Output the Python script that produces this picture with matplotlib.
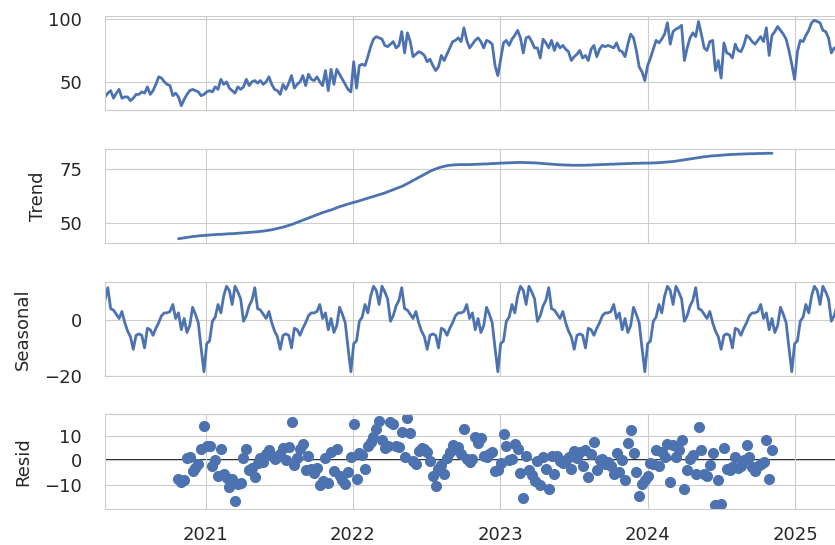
import numpy as np
import pandas as pd
import matplotlib
matplotlib.use("Agg")
import matplotlib.pyplot as plt
import matplotlib.dates as mdates
import seaborn as sns

sns.set_style("whitegrid")
plt.rcParams["font.family"] = ["DejaVu Sans"]

# weekly series, 260 weeks
weeks = pd.date_range("2020-04-27", periods=260, freq="7D")

observed = [
    38, 41, 43, 37, 41, 44, 37, 38, 38, 35,
    37, 40, 40, 42, 41, 46, 40, 43, 48, 54,
    53, 50, 48, 47, 39, 41, 38, 31, 36, 40,
    43, 44, 43, 42, 39, 40, 42, 43, 42, 46,
    44, 52, 48, 50, 45, 43, 41, 46, 44, 46,
    52, 47, 50, 51, 49, 51, 48, 50, 54, 48,
    44, 43, 40, 48, 44, 49, 55, 45, 48, 50,
    55, 47, 56, 52, 51, 54, 50, 47, 59, 43,
    60, 48, 60, 56, 52, 48, 44, 42, 66, 45,
    63, 64, 63, 70, 78, 84, 86, 85, 84, 79,
    78, 80, 82, 77, 79, 90, 73, 89, 82, 70,
    72, 74, 73, 71, 66, 68, 63, 59, 62, 71,
    67, 72, 77, 82, 83, 85, 82, 93, 83, 77,
    80, 83, 85, 82, 77, 83, 82, 80, 63, 55,
    68, 81, 83, 79, 84, 87, 91, 85, 73, 85,
    86, 82, 77, 77, 69, 84, 81, 77, 83, 75,
    81, 77, 79, 76, 74, 67, 70, 72, 75, 69,
    71, 67, 76, 79, 70, 76, 79, 78, 79, 78,
    77, 81, 75, 74, 70, 80, 88, 85, 75, 62,
    58, 51, 63, 69, 76, 83, 81, 84, 88, 97,
    80, 90, 92, 93, 95, 67, 77, 85, 89, 86,
    98, 88, 77, 75, 82, 83, 59, 67, 53, 81,
    73, 72, 69, 80, 75, 74, 79, 87, 85, 82,
    80, 83, 86, 82, 93, 71, 87, 90, 94, 91,
    88, 84, 75, 64, 52, 74, 83, 82, 87, 91,
    97, 99, 98, 97, 91, 90, 85, 73, 77, 76,
]

# one 52-week seasonal cycle
seasonal_cycle = [
    7, 11.5, 4, 3.5, 2, 0.5, 3, -1, -4, -6,
    -10.5, -5.5, -5, -5.5, -10, -3, -3.5, -5.5, -3, -1,
    1.5, 2.5, 2.5, 3, 5.5, 0.5, 2.5, -3.5, 0.5, -4.5,
    -2, 4.5, 2, -1, -10, -18.5, -8.5, -7.5, -0.5, 1,
    5.5, 2.5, 8.5, 12, 10.5, 5.5, 12, 10, 7.5, -0.5,
    1.5, 5,
]

# trend, defined from week 26 onwards
trend_start = 26
trend_values = [
    43.0, 43.2, 43.4, 43.6, 43.8, 44.0, 44.1, 44.3, 44.4, 44.5,
    44.6, 44.7, 44.8, 44.9, 45.0, 45.0, 45.1, 45.2, 45.3, 45.3,
    45.4, 45.5, 45.6, 45.7, 45.8, 45.9, 46.0, 46.1, 46.2, 46.4,
    46.5, 46.7, 46.9, 47.1, 47.4, 47.7, 48.0, 48.3, 48.7, 49.1,
    49.5, 50.0, 50.5, 51.0, 51.5, 52.0, 52.5, 53.0, 53.5, 54.0,
    54.5, 55.0, 55.4, 55.8, 56.2, 56.7, 57.2, 57.7, 58.1, 58.5,
    58.9, 59.3, 59.7, 60.0, 60.4, 60.8, 61.2, 61.6, 62.0, 62.4,
    62.8, 63.2, 63.6, 64.0, 64.5, 65.0, 65.5, 66.0, 66.5, 67.0,
    67.6, 68.3, 69.0, 69.7, 70.4, 71.1, 71.8, 72.5, 73.2, 73.9,
    74.5, 75.0, 75.5, 75.9, 76.2, 76.5, 76.7, 76.8, 76.9, 77.0,
    77.0, 77.0, 77.0, 77.0, 77.1, 77.1, 77.2, 77.2, 77.3, 77.3,
    77.4, 77.5, 77.5, 77.6, 77.7, 77.7, 77.8, 77.8, 77.9, 77.9,
    78.0, 78.0, 78.0, 77.9, 77.9, 77.8, 77.8, 77.7, 77.6, 77.5,
    77.4, 77.3, 77.2, 77.1, 77.0, 76.9, 76.9, 76.8, 76.8, 76.7,
    76.7, 76.7, 76.7, 76.7, 76.7, 76.8, 76.8, 76.9, 76.9, 77.0,
    77.0, 77.1, 77.1, 77.2, 77.2, 77.3, 77.3, 77.4, 77.4, 77.5,
    77.5, 77.6, 77.6, 77.6, 77.7, 77.7, 77.7, 77.7, 77.8, 77.8,
    77.9, 78.0, 78.1, 78.2, 78.3, 78.4, 78.6, 78.8, 79.0, 79.2,
    79.4, 79.6, 79.8, 80.0, 80.2, 80.4, 80.6, 80.7, 80.9, 81.0,
    81.1, 81.2, 81.3, 81.4, 81.5, 81.6, 81.7, 81.7, 81.8, 81.8,
    81.9, 81.9, 82.0, 82.0, 82.0, 82.1, 82.1, 82.1, 82.2, 82.2,
    82.2,
]

obs = np.array(observed, dtype=float)
seasonal = np.tile(seasonal_cycle, len(obs) // len(seasonal_cycle) + 1)[:len(obs)]
trend = np.full(len(obs), np.nan)
trend[trend_start:trend_start + len(trend_values)] = trend_values
resid = obs - trend - seasonal

blue = "#4C72B0"
fig = plt.figure(figsize=(8.35, 5.45), dpi=100)
W, H = 835.0, 545.0
left, right = 105, 837
panels = [(16, 110), (149, 243), (282, 376), (414, 509)]
axes = []
for top, bot in panels:
    ax = fig.add_axes([left / W, 1 - bot / H, (right - left) / W, (bot - top) / H])
    axes.append(ax)

axes[0].plot(weeks, obs, color=blue, lw=2)
axes[1].plot(weeks, trend, color=blue, lw=2)
axes[1].set_ylabel("Trend", labelpad=9)
axes[2].plot(weeks, seasonal, color=blue, lw=2)
axes[2].set_ylabel("Seasonal", labelpad=9)
axes[3].plot(weeks, resid, marker="o", linestyle="none", color=blue, ms=7)
axes[3].plot([weeks[0], weeks[-1]], [0, 0], color="#000000", lw=1.2, zorder=-3)
axes[3].set_ylabel("Resid", labelpad=9)

axes[0].set_yticks([50, 100])
axes[1].set_yticks([50, 75])
axes[2].set_yticks([-20, 0])
axes[3].set_yticks([-10, 0, 10])

for i, ax in enumerate(axes):
    ax.set_xlim(weeks[0], weeks[-1])
    ax.xaxis.set_major_locator(mdates.YearLocator())
    ax.xaxis.set_major_formatter(mdates.DateFormatter("%Y"))
    ax.tick_params(axis="y", labelsize=13, pad=13, colors=".15")
    ax.tick_params(axis="x", labelsize=13, pad=9, colors=".15")
    ax.yaxis.label.set_size(13)
    ax.yaxis.label.set_color(".15")
    if i < 3:
        ax.tick_params(axis="x", labelbottom=False)

fig.savefig("out.png", dpi=100)
